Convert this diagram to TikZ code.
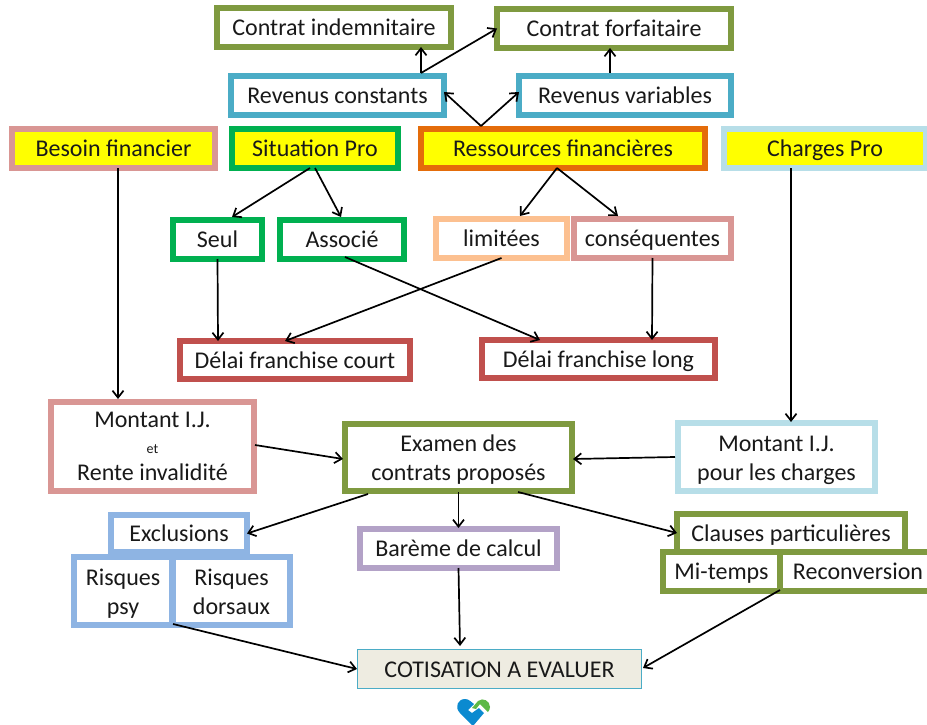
\documentclass[tikz,border=0pt]{standalone}
\usepackage{fontspec}
\setmainfont{Carlito}
\usetikzlibrary{arrows.meta}
\definecolor{olive}{HTML}{7F9A40}
\definecolor{seablue}{HTML}{4BACC6}
\definecolor{rosy}{HTML}{D99694}
\definecolor{grassy}{HTML}{00B050}
\definecolor{burnt}{HTML}{E46C0A}
\definecolor{paleblue}{HTML}{B7DEE8}
\definecolor{peach}{HTML}{FCC090}
\definecolor{brick}{HTML}{C0504D}
\definecolor{lavender}{HTML}{B3A2C7}
\definecolor{skyblue}{HTML}{8EB4E3}
\definecolor{sand}{HTML}{EEECE1}
\definecolor{headyellow}{HTML}{FFFF00}
\definecolor{logoblue}{HTML}{0B8AD0}
\definecolor{logogreen}{HTML}{5CB947}
\tikzset{
  label text/.style={inner sep=0pt, align=center, text=black!90, font=\fontsize{24}{29}\selectfont},
  box/.style={label text, draw=#1, line width=6pt, fill=white, text height=20pt, text depth=4pt},
  head/.style={box=#1, fill=headyellow},
  tallbox/.style={label text, draw=#1, line width=6pt, fill=white},
  link/.style={-{Straight Barb[length=7pt,width=11pt]}, line width=1.7pt}
}
\begin{document}
\begin{tikzpicture}[x=1pt,y=-1pt]
  \clip (0,0) rectangle (927,725);
  % top row
  \node [box=olive, minimum width=234pt, minimum height=39pt] (indem) at (334,27.5) {Contrat indemnitaire};
  \node [box=olive, minimum width=234pt, minimum height=39pt] (forfait) at (614,28.5) {Contrat forfaitaire};
  \node [box=seablue, minimum width=213pt, minimum height=39pt] (constants) at (337.5,95.5) {Revenus constants};
  \node [box=seablue, minimum width=212pt, minimum height=39pt] (variables) at (625,95.5) {Revenus variables};

  \node [head=rosy, minimum width=203pt, minimum height=39pt] (besoin) at (113.5,148.5) {Besoin financier};
  \node [head=grassy, minimum width=166pt, minimum height=39pt] (situation) at (315,148.5) {Situation Pro};
  \node [head=burnt, minimum width=284pt, minimum height=39pt] (ressources) at (563,148.5) {Ressources financières};
  \node [head=paleblue, minimum width=202pt, minimum height=39pt] (charges) at (825,148.5) {Charges Pro};

  \node [box=grassy, minimum width=89pt, minimum height=39pt] (seul) at (217.5,239.5) {Seul};
  \node [box=grassy, minimum width=124pt, minimum height=39pt] (associe) at (342,239.5) {Associé};
  \node [box=peach, minimum width=131pt, minimum height=39pt] (limitees) at (501.5,238.5) {limitées};
  \node [box=rosy, minimum width=157pt, minimum height=39pt] (consequentes) at (652.5,238.5) {conséquentes};

  \node [box=brick, minimum width=230pt, minimum height=38pt] (court) at (295,360) {Délai franchise court};
  \node [box=brick, minimum width=233pt, minimum height=38pt] (long) at (598.5,359) {Délai franchise long};

  \node [tallbox=rosy, minimum width=203pt, minimum height=89pt] (montant) at (152.5,446.5) {Montant I.J.\\[-3pt]{\fontsize{14}{20}\selectfont et}\\[-2pt]Rente invalidité};
  \node [tallbox=olive, minimum width=227pt, minimum height=67pt, text height=50pt, text depth=4pt] (examen) at (458.5,457.5) {Examen des\\contrats proposés};
  \node [tallbox=paleblue, minimum width=197pt, minimum height=68pt, text height=50pt, text depth=4pt] (montantcharges) at (776.5,457) {Montant I.J.\\pour les charges};

  % bottom boxes
  \node [box=skyblue, minimum width=136pt, minimum height=37pt] (exclusions) at (179,533.5) {Exclusions};
  \node [tallbox=skyblue, minimum width=98pt, minimum height=68pt, text height=50pt, text depth=4pt] (psy) at (123,591) {Risques\\psy};
  \node [tallbox=skyblue, minimum width=117pt, minimum height=68pt, text height=50pt, text depth=4pt] (dorsaux) at (231.5,591) {Risques\\dorsaux};
  \node [box=lavender, minimum width=197pt, minimum height=39pt] (bareme) at (458.5,548.5) {Barème de calcul};
  \node [box=olive, minimum width=228pt, minimum height=38pt] (clauses) at (791,533) {Clauses particulières};
  \node [box=olive, minimum width=117pt, minimum height=39pt] (mitemps) at (721.5,571.5) {Mi-temps};
  \node [box=olive, minimum width=156pt, minimum height=39pt] (reconversion) at (858,571.5) {Reconversion};
  \node [label text, draw=seablue, line width=1pt, fill=sand, text height=20pt, text depth=4pt, minimum width=284pt, minimum height=39pt] (cotisation) at (499.5,669) {COTISATION A EVALUER};

  % connectors
  \draw [link] ([xshift=83.5pt]constants.north) -- ([xshift=87pt,yshift=3pt]indem.south);
  \draw [link] ([xshift=83.5pt]constants.north) -- ([xshift=3pt]forfait.west);
  \draw [link] ([xshift=-15pt]variables.north) -- ([xshift=-4pt,yshift=3pt]forfait.south);
  \draw [link] ([xshift=-82pt]ressources.north) -- ([xshift=-3pt,yshift=3.5pt]constants.east);
  \draw [link] ([xshift=-82pt]ressources.north) -- ([xshift=3pt,yshift=3.5pt]variables.west);
  \draw [link] ([xshift=-5pt,yshift=3pt]situation.south) -- ([xshift=14.5pt]seul.north);
  \draw [link] ([yshift=3pt]situation.south) -- ([xshift=-1pt]associe.north);
  \draw [link] ([xshift=-6pt,yshift=3pt]ressources.south) -- ([xshift=18.5pt]limitees.north);
  \draw [link] ([xshift=-6pt,yshift=3pt]ressources.south) -- ([xshift=-34.5pt]consequentes.north);
  \draw [link] ([yshift=3pt]seul.south) -- ([xshift=-77pt,yshift=-3pt]court.north);
  \draw [link] ([xshift=3pt,yshift=5pt]associe.south) -- ([xshift=-58.5pt,yshift=-3pt]long.north);
  \draw [link] ([yshift=3pt]limitees.south) -- ([xshift=-10pt,yshift=-3pt]court.north);
  \draw [link] ([yshift=3pt]consequentes.south) -- ([xshift=53.5pt,yshift=-3pt]long.north);
  \draw [link] ([xshift=4.5pt,yshift=3pt]besoin.south) -- ([xshift=-34.5pt]montant.north);
  \draw [link] ([xshift=-34pt,yshift=3pt]charges.south) -- ([xshift=14.5pt,yshift=-2pt]montantcharges.north);
  \draw [link] ([xshift=-2pt,yshift=1.5pt]montant.east) -- ([xshift=1pt,yshift=-1.5pt]examen.west);
  \draw [link] (montantcharges.west) -- ([xshift=-2pt,yshift=-1.5pt]examen.east);
  \draw [link] ([yshift=2pt]examen.south) -- ([yshift=-2pt]bareme.north);
  \draw [link] ([xshift=-90.5pt]examen.south) -- ([xshift=-3pt]exclusions.east);
  \draw [link] ([xshift=59.5pt,yshift=2pt]examen.south) -- ([xshift=3pt]clauses.west);
  \draw [link] ([xshift=50pt,yshift=4pt]psy.south) -- (cotisation.west);
  \draw [link] ([yshift=3pt]bareme.south) -- ([xshift=-39.5pt,yshift=3pt]cotisation.north);
  \draw [link] ([xshift=-78pt,yshift=4pt]reconversion.south) -- ([xshift=1pt,yshift=1pt]cotisation.east);

  % logo
  \fill [logoblue] (473,726) -- (460,713) .. controls (454,707) and (458,699) .. (465,699) .. controls (469,699) and (471,702) .. (474,704) -- (468,710) -- (472,713) -- (479,708) -- (484,713) -- cycle;
  \fill [logogreen] (472,708) -- (478,701) .. controls (483,697) and (490,701) .. (490,707) .. controls (490,709) and (489,711) .. (488,712) -- (480,704) -- (476,709) -- cycle;
\end{tikzpicture}
\end{document}
